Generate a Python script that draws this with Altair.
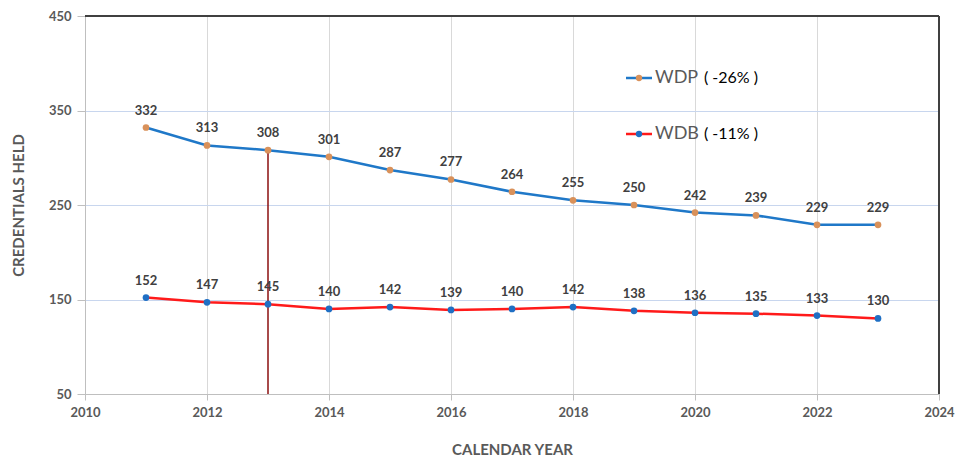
import altair as alt
import pandas as pd

years = [2011, 2012, 2013, 2014, 2015, 2016, 2017, 2018, 2019, 2020, 2021, 2022, 2023]
wdp = [332, 313, 308, 301, 287, 277, 264, 255, 250, 242, 239, 229, 229]
wdb = [152, 147, 145, 140, 142, 139, 140, 142, 138, 136, 135, 133, 130]
series_names = ["WDP", "WDB"]
series_changes = ["( -26% )", "( -11% )"]
line_colors = ["#1f78c8", "#ff1a1a"]
dot_colors = ["#d9915a", "#1f6fc4"]
marker_year = 2013

FONT = "Lato, sans-serif"
W, H = 854, 378

df = pd.DataFrame({
    "year": years * 2,
    "value": wdp + wdb,
    "series": ["WDP"] * len(years) + ["WDB"] * len(years),
})

xs = alt.Scale(domain=[2010, 2024], nice=False)
ys = alt.Scale(domain=[50, 450], nice=False)

base = alt.Chart(df)

x_enc = alt.X("year:Q", scale=xs,
              axis=alt.Axis(values=list(range(2010, 2025, 2)), format="d",
                            title="CALENDAR YEAR", titleFont=FONT, titleFontSize=15,
                            titleFontWeight="bold", titleColor="#595959", titlePadding=23,
                            labelFont=FONT, labelFontSize=13, labelFontWeight="bold",
                            labelColor="#595959", labelPadding=6,
                            domainColor="#bfbfbf", tickColor="#bfbfbf", tickSize=6,
                            gridColor="#d9d9d9", gridWidth=1, labelFlush=False))
y_enc = alt.Y("value:Q", scale=ys,
              axis=alt.Axis(values=[50, 150, 250, 350, 450],
                            title="CREDENTIALS HELD", titleFont=FONT, titleFontSize=15,
                            titleFontWeight="bold", titleColor="#595959", titlePadding=22,
                            labelFont=FONT, labelFontSize=13, labelFontWeight="bold",
                            labelColor="#595959", labelPadding=6,
                            domainColor="#bfbfbf", tickColor="#bfbfbf", tickSize=8,
                            gridColor="#c8d6ee", gridWidth=1))

color_line = alt.Color("series:N", scale=alt.Scale(domain=series_names, range=line_colors), legend=None)
color_dot = alt.Color("series:N", scale=alt.Scale(domain=series_names, range=dot_colors), legend=None)

lines = base.mark_line(strokeWidth=2.5).encode(x=x_enc, y=y_enc, color=color_line)

border_df = pd.DataFrame({"x": [2010], "x2": [2024], "y": [450], "y2": [50]})
top_border = alt.Chart(border_df).mark_rule(color="#404040", strokeWidth=2).encode(
    x=alt.X("x:Q", scale=xs), x2="x2:Q", y=alt.Y("y:Q", scale=ys))
right_border = alt.Chart(border_df).mark_rule(color="#404040", strokeWidth=2).encode(
    x=alt.X("x2:Q", scale=xs), y=alt.Y("y:Q", scale=ys), y2="y2:Q")

marker_df = pd.DataFrame({"x": [marker_year], "y": [50], "y2": [wdp[years.index(marker_year)]]})
vline = alt.Chart(marker_df).mark_rule(color="#8b0f0f", strokeWidth=1.5).encode(
    x=alt.X("x:Q", scale=xs), y=alt.Y("y:Q", scale=ys), y2="y2:Q")

points = base.mark_circle(size=45, opacity=1).encode(
    x=alt.X("year:Q", scale=xs), y=alt.Y("value:Q", scale=ys), color=color_dot)

labels = base.mark_text(dy=-17, font=FONT, fontSize=13, fontWeight="bold", color="#404040").encode(
    x=alt.X("year:Q", scale=xs), y=alt.Y("value:Q", scale=ys), text="value:Q")

# legend (manual)
leg_df = pd.DataFrame({
    "series": series_names,
    "change": series_changes,
    "ly": [62, 118],
})
leg_lines = alt.Chart(leg_df).mark_rule(strokeWidth=2.5).encode(
    x=alt.value(541), x2=alt.value(567), y=alt.Y("ly:Q", scale=None), color=color_line)
leg_dots = alt.Chart(leg_df).mark_circle(size=40, opacity=1).encode(
    x=alt.value(554), y=alt.Y("ly:Q", scale=None), color=color_dot)
leg_names = alt.Chart(leg_df).mark_text(align="left", baseline="middle", font=FONT, fontSize=18,
                                        color="#595959").encode(
    x=alt.value(570), y=alt.Y("ly:Q", scale=None), text="series:N")
leg_changes = alt.Chart(leg_df).mark_text(align="left", baseline="middle", font=FONT, fontSize=16,
                                          color="#000000").encode(
    x=alt.value(619), y=alt.Y("ly:Q", scale=None), text="change:N")

chart = alt.layer(
    lines, top_border, right_border, vline, points, labels,
    leg_lines, leg_dots, leg_names, leg_changes
).resolve_scale(color="independent").properties(
    width=W, height=H,
    autosize=alt.AutoSizeParams(type="none"),
    padding={"left": 77, "top": 8, "right": 18, "bottom": 65},
).configure_view(stroke=None)

chart.save("out.html", embed_options={"renderer": "svg", "actions": False})
